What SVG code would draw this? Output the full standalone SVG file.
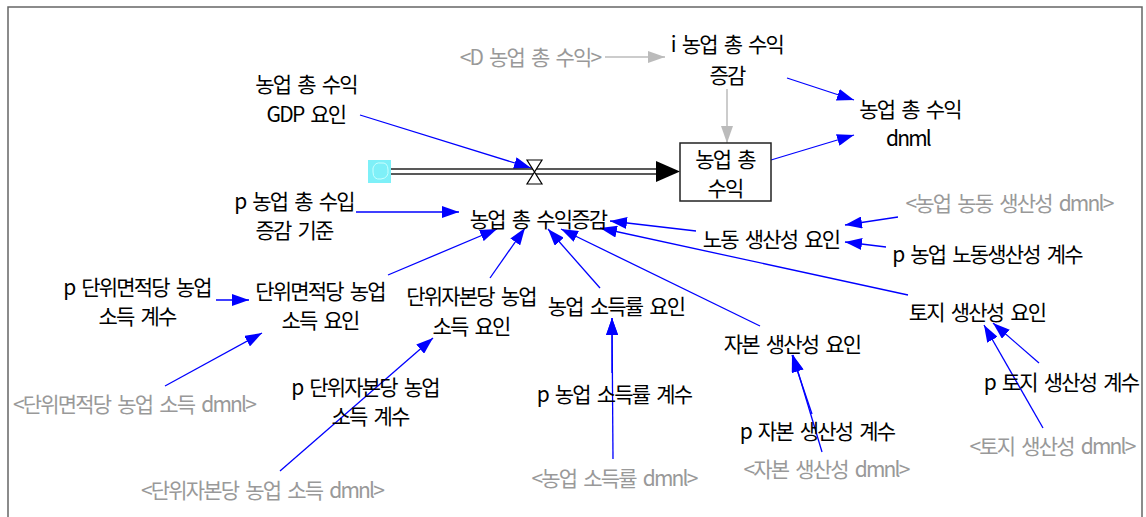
<svg xmlns="http://www.w3.org/2000/svg" width="1146" height="517" viewBox="0 0 1146 517">
<style>
text{font-family:"Noto Sans CJK KR","Noto Sans",sans-serif;font-size:21px;letter-spacing:-1.8px;word-spacing:4px;fill:#000;text-anchor:middle}
text.g{fill:#999}
.c{fill:none;stroke:#0000ff;stroke-width:1.3}
.cg{fill:none;stroke:#bbb;stroke-width:1.5}
.pipe{stroke:#222;stroke-width:1.6}
</style>
<defs>
<marker id="ab" markerUnits="userSpaceOnUse" markerWidth="17" markerHeight="12" refX="17" refY="6" orient="auto"><path d="M0,0 L17,6 L0,12 z" fill="#0000ff"/></marker>
<marker id="ag" markerUnits="userSpaceOnUse" markerWidth="17" markerHeight="12" refX="17" refY="6" orient="auto"><path d="M0,0 L17,6 L0,12 z" fill="#bbb"/></marker>
</defs>
<rect x="8" y="7" width="1134" height="540" fill="#fff" stroke="#666" stroke-width="1.5"/>
<g id="connectors">
<line class="cg" x1="605" y1="57" x2="665" y2="57" marker-end="url(#ag)"/>
<line class="cg" x1="727" y1="89" x2="727" y2="143" marker-end="url(#ag)"/>
<line class="c" x1="787" y1="78" x2="854" y2="100" marker-end="url(#ab)"/>
<line class="c" x1="771" y1="160" x2="854" y2="135" marker-end="url(#ab)"/>
<line class="c" x1="360" y1="115" x2="531" y2="168" marker-end="url(#ab)"/>
<line class="c" x1="356" y1="212" x2="459" y2="212" marker-end="url(#ab)"/>
<line class="c" x1="696" y1="231" x2="610" y2="221" marker-end="url(#ab)"/>
<line class="c" x1="908" y1="295" x2="600" y2="228" marker-end="url(#ab)"/>
<line class="c" x1="898" y1="217" x2="845" y2="225" marker-end="url(#ab)"/>
<line class="c" x1="886" y1="247" x2="845" y2="242" marker-end="url(#ab)"/>
<line class="c" x1="388" y1="275" x2="497" y2="229" marker-end="url(#ab)"/>
<line class="c" x1="216" y1="300" x2="249" y2="300" marker-end="url(#ab)"/>
<line class="c" x1="165" y1="386" x2="262" y2="333" marker-end="url(#ab)"/>
<line class="c" x1="490" y1="278" x2="525" y2="228" marker-end="url(#ab)"/>
<line class="c" x1="280" y1="471" x2="433" y2="338" marker-end="url(#ab)"/>
<line class="c" x1="600" y1="288" x2="548" y2="229" marker-end="url(#ab)"/>
<line class="c" x1="612" y1="373" x2="612" y2="318" marker-end="url(#ab)"/>
<line class="c" x1="613" y1="459" x2="612" y2="318" marker-end="url(#ab)"/>
<line class="c" x1="760" y1="326" x2="561" y2="229" marker-end="url(#ab)"/>
<line class="c" x1="822" y1="452" x2="793" y2="355" marker-end="url(#ab)"/>
<line class="c" x1="812" y1="414" x2="792" y2="355" marker-end="url(#ab)"/>
<line class="c" x1="1039" y1="363" x2="993" y2="323" marker-end="url(#ab)"/>
<line class="c" x1="1043" y1="428" x2="984" y2="325" marker-end="url(#ab)"/>
</g>
<g id="flow">
<rect x="368" y="160" width="23" height="23" fill="#7ef0f8"/>
<path d="M373,168 Q375,162 381,163 Q388,162 388,170 Q389,178 381,179 Q373,180 373,172 Z" fill="none" stroke="#c8ffff" stroke-width="1"/>
<line class="pipe" x1="391" y1="169" x2="658" y2="169"/>
<line class="pipe" x1="391" y1="174" x2="658" y2="174"/>
<polygon points="656,161 680,171.5 656,182" fill="#000"/>
<path d="M527,160 H542 L527,184 H542 Z" fill="#fff" stroke="#000" stroke-width="1.2"/>
</g>
<g id="stock"><rect x="680" y="143" width="91" height="58" fill="#fff" stroke="#222" stroke-width="1.5"/><text x="725" y="167">농업 총</text><text x="725" y="196">수익</text></g>
<g id="n_dtotal"><text class="g" x="530" y="65">&lt;D 농업 총 수익&gt;</text></g>
<g id="n_i"><text x="727" y="52">i 농업 총 수익</text><text x="727" y="83">증감</text></g>
<g id="n_dnml"><text x="910" y="117">농업 총 수익</text><text x="908" y="146">dnml</text></g>
<g id="n_gdp"><text x="306" y="92">농업 총 수익</text><text x="306" y="122">GDP 요인</text></g>
<g id="n_pbase"><text x="294" y="209">p 농업 총 수입</text><text x="294" y="238">증감 기준</text></g>
<g id="n_flow"><text x="538" y="227">농업 총 수익증감</text></g>
<g id="n_labor"><text x="771" y="247">노동 생산성 요인</text></g>
<g id="n_labordm"><text class="g" x="1009" y="211">&lt;농업 농동 생산성 dmnl&gt;</text></g>
<g id="n_laborp"><text x="987" y="262">p 농업 노동생산성 계수</text></g>
<g id="n_land"><text x="977" y="320">토지 생산성 요인</text></g>
<g id="n_landp"><text x="1061" y="390">p 토지 생산성 계수</text></g>
<g id="n_landdm"><text class="g" x="1052" y="454">&lt;토지 생산성 dmnl&gt;</text></g>
<g id="n_area"><text x="320" y="299">단위면적당 농업</text><text x="320" y="328">소득 요인</text></g>
<g id="n_areap"><text x="137" y="295">p 단위면적당 농업</text><text x="137" y="324">소득 계수</text></g>
<g id="n_areadm"><text class="g" x="134" y="412">&lt;단위면적당 농업 소득 dmnl&gt;</text></g>
<g id="n_cap"><text x="471" y="304">단위자본당 농업</text><text x="471" y="334">소득 요인</text></g>
<g id="n_capp"><text x="365" y="395">p 단위자본당 농업</text><text x="370" y="424">소득 계수</text></g>
<g id="n_capdm"><text class="g" x="262" y="498">&lt;단위자본당 농업 소득 dmnl&gt;</text></g>
<g id="n_rate"><text x="616" y="314">농업 소득률 요인</text></g>
<g id="n_ratep"><text x="614" y="402">p 농업 소득률 계수</text></g>
<g id="n_ratedm"><text class="g" x="614" y="486">&lt;농업 소득률 dmnl&gt;</text></g>
<g id="n_kap"><text x="792" y="352">자본 생산성 요인</text></g>
<g id="n_kapp"><text x="817" y="439">p 자본 생산성 계수</text></g>
<g id="n_kapdm"><text class="g" x="826" y="477">&lt;자본 생산성 dmnl&gt;</text></g>
</svg>
